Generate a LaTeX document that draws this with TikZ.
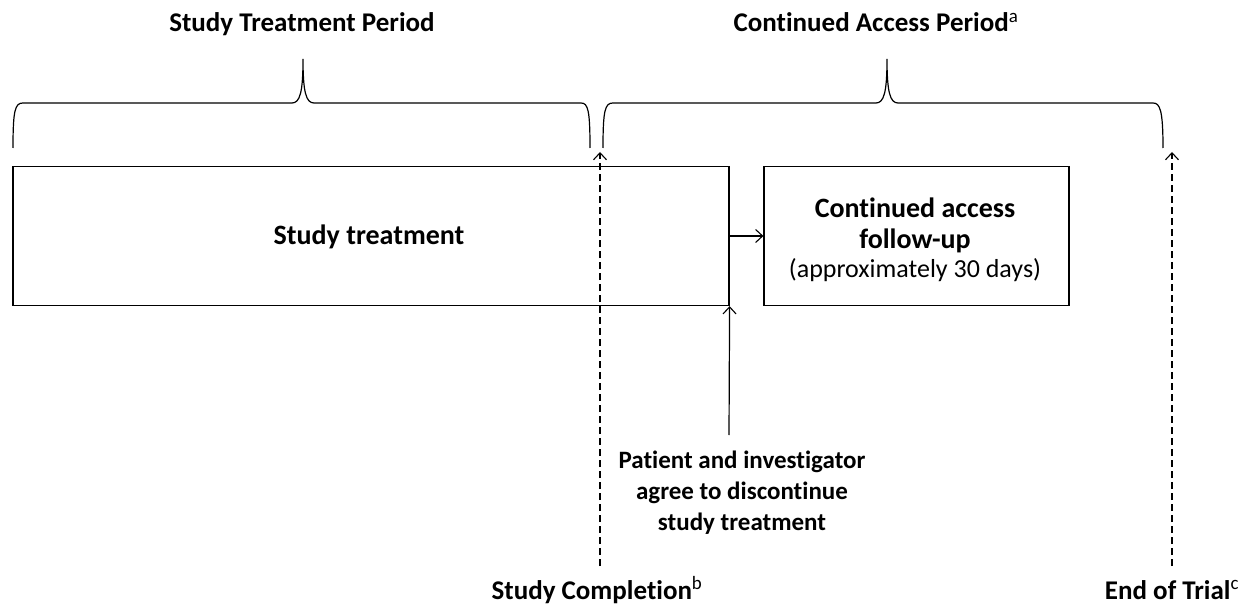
\documentclass[tikz,border=0pt]{standalone}
\usepackage{fontspec}
\setmainfont{Carlito}[Ligatures=NoCommon]
\usetikzlibrary{arrows.meta}
\tikzset{
  ln/.style={line width=1.2pt},
  box/.style={draw, line width=1.2pt, inner sep=0pt},
  opentip/.style={-{Straight Barb[length=7pt,width=13pt,line width=1.1pt]}},
  dsh/.style={dash pattern=on 7pt off 4pt, line width=1.1pt},
  ttl/.style={font=\fontsize{27}{32}\selectfont\bfseries, anchor=base, inner sep=0pt},
  lbl/.style={font=\fontsize{25}{31}\selectfont\bfseries, align=center, inner sep=0pt}
}
\begin{document}
\begin{tikzpicture}[x=1pt,y=-1pt]
\useasboundingbox (0,0) rectangle (1243,607);
% titles
\node[ttl] (t1) at (302,32) {Study Treatment Period};
\node[ttl] (t2) at (876,32) {Continued Access Period\textsuperscript{\normalfont a}};
% braces
\draw[ln] (13,148) .. controls (13,110) and (15,103) .. (23,103) -- (292,103)
  .. controls (300,103) and (303,92) .. (303,59)
  .. controls (303,92) and (306,103) .. (314,103) -- (581,103)
  .. controls (588,103) and (590,110) .. (590,148);
\draw[ln] (603,148) .. controls (603,110) and (605,103) .. (613,103) -- (876,103)
  .. controls (884,103) and (887,92) .. (887,59)
  .. controls (887,92) and (890,103) .. (898,103) -- (1153,103)
  .. controls (1160,103) and (1163,110) .. (1163,148);
% boxes
\node[box, minimum width=716pt, minimum height=139pt] (st) at (371,236) {};
\node[font=\fontsize{28}{32}\selectfont\bfseries, inner sep=0pt] (stl) at (369,237) {Study treatment};
\node[box, minimum width=305pt, minimum height=139pt] (ca) at (916.5,236) {};
\node[font=\fontsize{28}{31}\selectfont\bfseries, align=center, inner sep=0pt] (cal) at (915,225.5) {Continued access\\follow-up};
\node[font=\fontsize{26}{30}\selectfont, anchor=base, inner sep=0pt] (cas) at (915,277) {(approximately 30 days)};
\draw[ln, opentip] (st.east) -- (ca.west);
% discontinue arrow
\node[lbl] (pat) at (742,493) {Patient and investigator\\agree to discontinue\\study treatment};
\coordinate (pb) at (729,435);
\draw[ln, opentip] (pb) -- (st.south east);
% bottom labels
\node[ttl] (sc) at (597,599) {Study Completion\textsuperscript{\normalfont b}};
\node[ttl] (et) at (1172,599) {End of Trial\textsuperscript{\normalfont c}};
\coordinate (scb) at (600,566);
\coordinate (etb) at (1172,566);
\coordinate (sct) at (600,152);
\coordinate (ett) at (1172,152);
\draw[dsh, opentip] (scb) -- (sct);
\draw[dsh, opentip] (etb) -- (ett);
\end{tikzpicture}
\end{document}
